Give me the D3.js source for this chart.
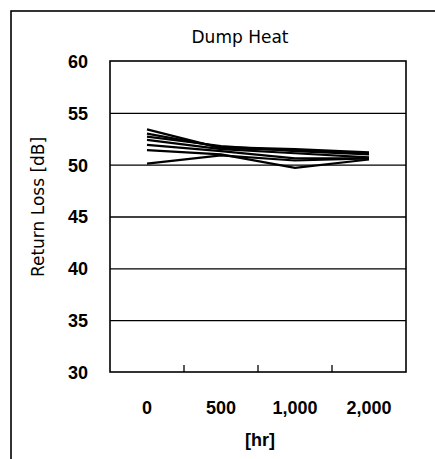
<!DOCTYPE html>
<html>
<head>
<meta charset="utf-8">
<script src="https://cdn.jsdelivr.net/npm/d3@7"></script>
<style>
    body { margin: 0; background: #fff; }
    text { font-family: "Liberation Sans", Arial, sans-serif; fill: #000; }
    .label { font-family: "DejaVu Sans", sans-serif; }
    .axis path, .axis line { stroke: none; }
    .grid line { stroke: #000; stroke-width: 1.3; }
    .grid path { stroke: none; }
</style>
</head>
<body>
<div id="chart"></div>
<script>
const hours = ["0", "500", "1,000", "2,000"];
const yTicks = [30, 35, 40, 45, 50, 55, 60];

// return loss [dB] per sample
const sample1 = [53.4, 51.6, 51.4, 51.1];
const sample2 = [53.0, 51.7, 51.5, 51.2];
const sample3 = [52.7, 51.8, 51.3, 51.0];
const sample4 = [52.4, 51.5, 51.1, 50.7];
const sample5 = [51.9, 51.3, 50.6, 50.6];
const sample6 = [51.4, 51.0, 49.7, 50.5];
const sample7 = [50.1, 50.9, 50.4, 50.6];

const samples = [sample1, sample2, sample3, sample4, sample5, sample6, sample7];

const W = 435, H = 459;
const margin = { top: 61, right: 29, bottom: 87, left: 110 };
const width = W - margin.left - margin.right;
const height = H - margin.top - margin.bottom;

const svg = d3.select("#chart").append("svg")
    .attr("width", W)
    .attr("height", H);

// outer chart frame (runs off the page right and bottom)
svg.append("rect")
    .attr("x", 11).attr("y", 11)
    .attr("width", W + 20).attr("height", H + 20)
    .attr("fill", "none")
    .attr("stroke", "#000")
    .attr("stroke-width", 1.6);

const chart = svg.append("g")
    .attr("transform", `translate(${margin.left},${margin.top})`);

const xScale = d3.scaleBand().domain(hours).range([0, width]);
const yScale = d3.scaleLinear().domain([30, 60]).range([height, 0]);

chart.append("g")
    .attr("class", "grid")
    .call(d3.axisLeft(yScale).tickValues(yTicks.slice(1, -1)).tickSize(-width).tickFormat(""));

chart.append("rect")
    .attr("width", width).attr("height", height)
    .attr("fill", "none")
    .attr("stroke", "#000")
    .attr("stroke-width", 1.6);

// inside tick marks between categories
chart.selectAll(".xtick")
    .data(hours.slice(1))
    .enter().append("line")
    .attr("class", "xtick")
    .attr("x1", (d) => xScale(d)).attr("x2", (d) => xScale(d))
    .attr("y1", height).attr("y2", height - 7)
    .attr("stroke", "#000")
    .attr("stroke-width", 1.3);

const yAxis = chart.append("g")
    .attr("class", "axis")
    .call(d3.axisLeft(yScale).tickValues(yTicks).tickSize(0).tickPadding(22));
yAxis.selectAll("text")
    .style("font-size", "18px")
    .style("font-weight", "bold")
    .attr("dy", "0.36em");

const xAxis = chart.append("g")
    .attr("class", "axis")
    .attr("transform", `translate(0,${height})`)
    .call(d3.axisBottom(xScale).tickSize(0).tickPadding(29));
xAxis.selectAll("text")
    .style("font-size", "18px")
    .style("font-weight", "bold")
    .attr("dy", "0.71em");

const line = d3.line()
    .x((d, i) => xScale(hours[i]) + xScale.bandwidth() / 2)
    .y((d) => yScale(d));

chart.selectAll(".sample")
    .data(samples)
    .enter().append("path")
    .attr("class", "sample")
    .attr("d", line)
    .attr("fill", "none")
    .attr("stroke", "#000")
    .attr("stroke-width", 2.2);

svg.append("text")
    .attr("class", "label")
    .attr("x", 240).attr("y", 43)
    .attr("text-anchor", "middle")
    .style("font-size", "17px")
    .text("Dump Heat");

svg.append("text")
    .attr("class", "label")
    .attr("transform", "translate(44,207) rotate(-90)")
    .attr("text-anchor", "middle")
    .style("font-size", "17px")
    .text("Return Loss [dB]");

svg.append("text")
    .attr("x", 260).attr("y", 446)
    .attr("text-anchor", "middle")
    .style("font-size", "18px")
    .style("font-weight", "bold")
    .text("[hr]");
</script>
</body>
</html>
